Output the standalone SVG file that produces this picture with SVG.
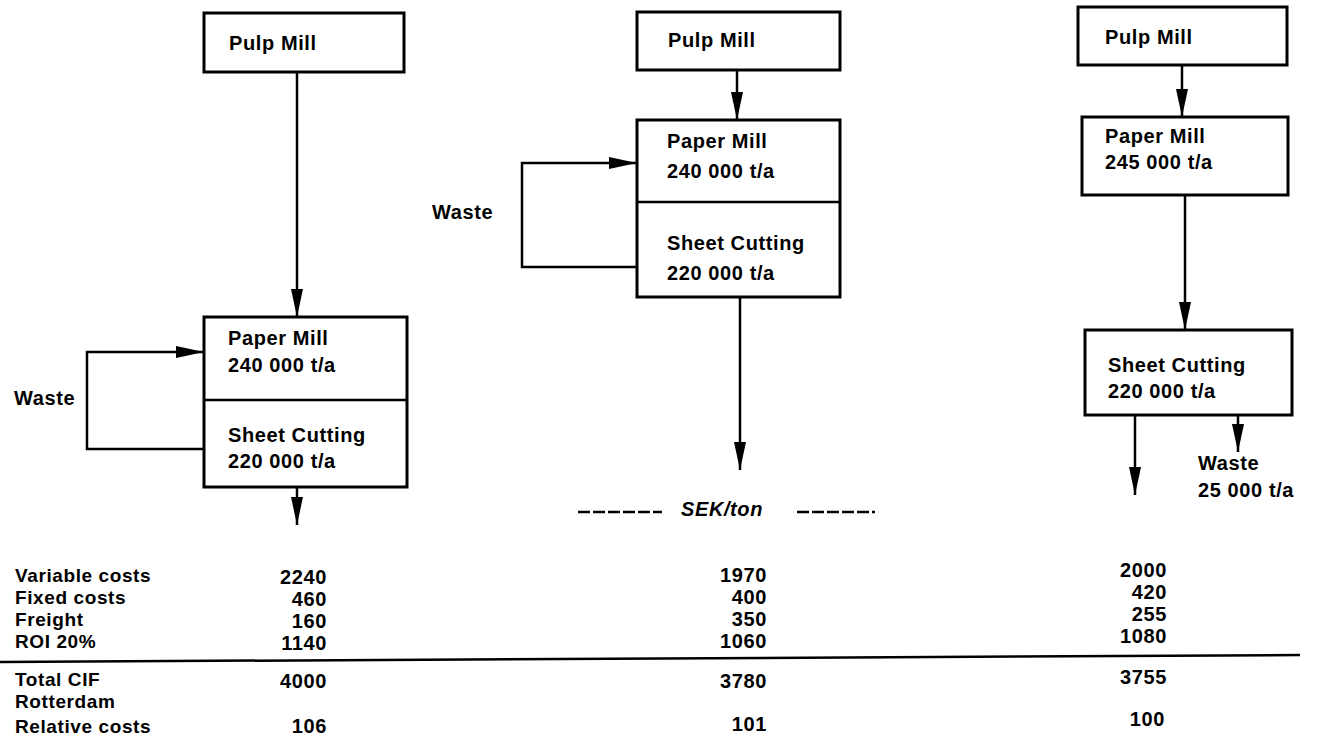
<svg xmlns="http://www.w3.org/2000/svg" width="1318" height="746" viewBox="0 0 1318 746">
<style>
.box{fill:#fff;stroke:#000;stroke-width:3}
.ln{fill:none;stroke:#000;stroke-width:2.5}
.t{font-family:"Liberation Sans",Arial,sans-serif;font-weight:bold;font-size:20px;fill:#000;letter-spacing:0.6px}
.s{font-size:19px}
.n{text-anchor:end}
.i{font-style:italic}
</style>
<defs>
<marker id="ah" markerUnits="userSpaceOnUse" markerWidth="28" markerHeight="12" refX="28" refY="6" orient="auto">
<path d="M0,0 L28,6 L0,12 Z" fill="#000"/>
</marker>
</defs>
<rect width="1318" height="746" fill="#fff"/>

<g id="connectors">
<path class="ln" d="M297,72 V317" marker-end="url(#ah)"/>
<path class="ln" d="M297,487 V525" marker-end="url(#ah)"/>
<path class="ln" d="M204,449 H87 V352 H204" marker-end="url(#ah)"/>
<path class="ln" d="M737,70 V120" marker-end="url(#ah)"/>
<path class="ln" d="M740,297 V470" marker-end="url(#ah)"/>
<path class="ln" d="M637,267 H522 V163 H637" marker-end="url(#ah)"/>
<path class="ln" d="M1182,65 V117" marker-end="url(#ah)"/>
<path class="ln" d="M1185,195 V330" marker-end="url(#ah)"/>
<path class="ln" d="M1135,415 V495" marker-end="url(#ah)"/>
<path class="ln" d="M1238,415 V452" marker-end="url(#ah)"/>
</g>

<g id="left-pulp">
<rect class="box" x="204" y="13" width="200" height="59"/>
<text class="t" x="229" y="50">Pulp Mill</text>
</g>
<g id="left-paper-sheet">
<rect class="box" x="204" y="317" width="203" height="170"/>
<line class="ln" x1="204" y1="400" x2="407" y2="400"/>
<text class="t" x="228" y="345">Paper Mill</text>
<text class="t" x="228" y="372">240 000 t/a</text>
<text class="t" x="228" y="442">Sheet Cutting</text>
<text class="t" x="228" y="468">220 000 t/a</text>
</g>
<g id="left-waste"><text class="t" x="14" y="405">Waste</text></g>

<g id="mid-pulp">
<rect class="box" x="637" y="12" width="203" height="58"/>
<text class="t" x="668" y="47">Pulp Mill</text>
</g>
<g id="mid-paper-sheet">
<rect class="box" x="637" y="120" width="203" height="177"/>
<line class="ln" x1="637" y1="202" x2="840" y2="202"/>
<text class="t" x="667" y="148">Paper  Mill</text>
<text class="t" x="667" y="178">240 000 t/a</text>
<text class="t" x="667" y="250">Sheet Cutting</text>
<text class="t" x="667" y="280">220 000 t/a</text>
</g>
<g id="mid-waste"><text class="t" x="432" y="219">Waste</text></g>

<g id="right-pulp">
<rect class="box" x="1078" y="7" width="209" height="58"/>
<text class="t" x="1105" y="44">Pulp Mill</text>
</g>
<g id="right-paper">
<rect class="box" x="1082" y="117" width="206" height="78"/>
<text class="t" x="1105" y="143">Paper  Mill</text>
<text class="t" x="1105" y="169">245 000 t/a</text>
</g>
<g id="right-sheet">
<rect class="box" x="1085" y="330" width="207" height="85"/>
<text class="t" x="1108" y="372">Sheet Cutting</text>
<text class="t" x="1108" y="398">220 000 t/a</text>
</g>
<g id="right-waste">
<text class="t" x="1198" y="470">Waste</text>
<text class="t" x="1198" y="497">25 000 t/a</text>
</g>

<g id="table">
<line class="ln" x1="578" y1="512" x2="662" y2="512" stroke-dasharray="12,3"/>
<line class="ln" x1="797" y1="512" x2="875" y2="512" stroke-dasharray="12,3"/>
<text class="t i" x="681" y="516">SEK/ton</text>

<text class="t s" x="15" y="582">Variable costs</text>
<text class="t s" x="15" y="604">Fixed costs</text>
<text class="t s" x="15" y="626">Freight</text>
<text class="t s" x="15" y="648">ROI 20%</text>
<text class="t s" x="15" y="686">Total CIF</text>
<text class="t s" x="15" y="708">Rotterdam</text>
<text class="t s" x="15" y="733">Relative costs</text>

<text class="t n" x="327" y="584">2240</text>
<text class="t n" x="327" y="606">460</text>
<text class="t n" x="327" y="628">160</text>
<text class="t n" x="327" y="650">1140</text>
<text class="t n" x="327" y="688">4000</text>
<text class="t n" x="327" y="733">106</text>

<text class="t n" x="767" y="582">1970</text>
<text class="t n" x="767" y="604">400</text>
<text class="t n" x="767" y="626">350</text>
<text class="t n" x="767" y="648">1060</text>
<text class="t n" x="767" y="688">3780</text>
<text class="t n" x="767" y="731">101</text>

<text class="t n" x="1167" y="577">2000</text>
<text class="t n" x="1167" y="599">420</text>
<text class="t n" x="1167" y="621">255</text>
<text class="t n" x="1167" y="643">1080</text>
<text class="t n" x="1167" y="684">3755</text>
<text class="t n" x="1165" y="726">100</text>

<path class="ln" d="M0,662 L1300,655"/>
</g>
</svg>
